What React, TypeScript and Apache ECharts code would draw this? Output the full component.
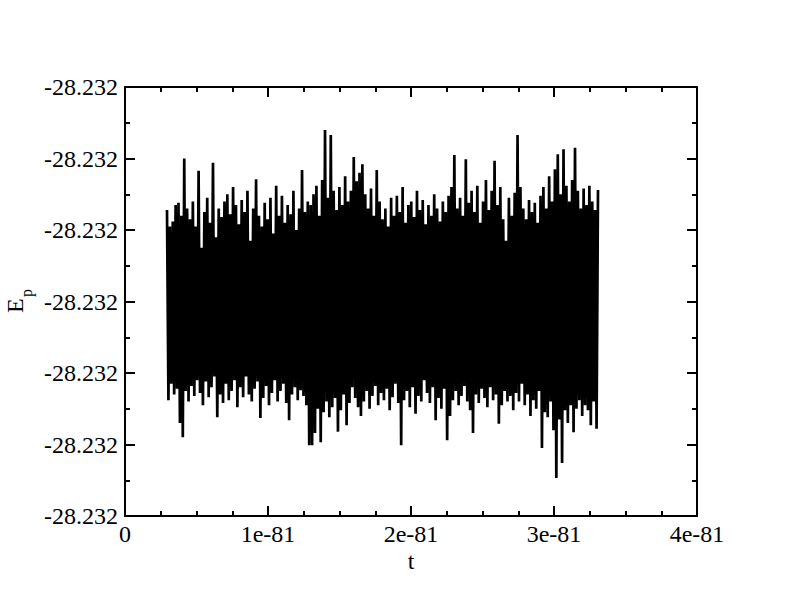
import React, { useEffect, useRef } from "react";
import * as echarts from "echarts";

// time axis in units of 1e-81, sampling from tStart to tEnd
const tStart = 0.2937;
const tEnd = 3.3077;
// E_p fluctuation, in axis units (each major y tick = one unit; all ticks read -28.232)
const epValues = [
  4.28, 1.62, 4.05, 1.85, 4.12, 1.70, 4.35, 1.78, 4.38, 1.30, 4.20, 1.10, 5.00, 1.75, 4.30, 1.60, 4.15, 1.82, 4.40, 1.68,
  4.05, 1.90, 4.83, 1.72, 3.75, 1.55, 4.25, 1.88, 4.45, 1.66, 4.10, 1.80, 4.94, 1.95, 3.90, 1.38, 4.30, 1.70, 4.18, 1.58,
  4.40, 1.85, 4.50, 1.62, 4.22, 1.75, 4.60, 1.90, 4.35, 1.52, 4.08, 1.80, 4.42, 1.66, 4.25, 1.95, 4.55, 1.70, 3.85, 1.60,
  4.30, 1.78, 4.71, 1.88, 4.20, 1.37, 4.05, 1.65, 4.38, 1.82, 4.15, 1.55, 4.45, 1.72, 3.95, 1.90, 4.62, 1.60, 4.20, 1.75,
  4.48, 1.85, 4.10, 1.58, 4.35, 1.34, 4.22, 1.70, 4.55, 1.80, 4.00, 1.62, 4.30, 1.76, 4.84, 1.68, 4.25, 1.55, 4.40, 0.99,
  4.35, 0.99, 4.50, 1.16, 4.62, 1.50, 4.20, 1.03, 4.70, 1.45, 5.40, 1.60, 4.45, 1.38, 5.33, 1.52, 4.55, 1.65, 4.28, 1.18,
  4.60, 1.48, 4.35, 1.70, 4.75, 1.27, 4.40, 1.58, 4.55, 1.80, 5.02, 1.65, 4.68, 1.52, 4.80, 1.40, 4.92, 1.60, 4.50, 1.75,
  4.30, 1.50, 4.58, 1.68, 4.20, 1.82, 4.84, 1.55, 4.40, 1.72, 4.15, 1.62, 4.30, 1.78, 4.05, 1.48, 4.45, 1.66, 4.20, 1.85,
  4.48, 1.58, 4.25, 0.99, 4.60, 1.62, 4.10, 1.75, 4.35, 1.52, 4.40, 1.80, 4.18, 1.43, 4.55, 1.68, 4.28, 1.60, 4.42, 1.90,
  4.08, 1.72, 4.35, 1.58, 4.20, 1.80, 4.50, 1.34, 4.30, 1.65, 4.12, 1.50, 4.40, 1.78, 4.25, 1.06, 4.48, 1.40, 4.60, 1.62,
  5.05, 1.75, 4.30, 1.55, 4.45, 1.68, 4.20, 1.82, 4.99, 1.60, 4.38, 1.48, 4.55, 1.16, 4.25, 1.70, 4.62, 1.58, 4.10, 1.78,
  4.40, 1.65, 4.70, 1.52, 4.28, 1.80, 4.55, 1.62, 4.97, 1.70, 4.35, 1.29, 4.60, 1.55, 4.15, 1.75, 3.85, 1.60, 4.45, 1.68,
  4.20, 1.48, 4.52, 1.72, 5.33, 1.60, 4.60, 1.85, 4.30, 1.55, 4.15, 1.70, 4.42, 1.40, 4.25, 1.62, 4.38, 1.50, 4.10, 1.75,
  4.48, 0.95, 4.60, 1.45, 4.30, 1.38, 4.75, 1.60, 4.40, 1.20, 4.85, 0.53, 5.06, 1.35, 4.50, 0.74, 5.13, 1.48, 4.62, 1.30,
  4.40, 1.55, 4.70, 1.17, 5.15, 1.50, 4.55, 1.62, 4.30, 1.40, 4.58, 1.55, 4.35, 1.48, 4.62, 1.27, 4.40, 1.60, 4.28, 1.22,
  4.56,
];
const yTickLabel = "-28.232";
const xTickSuffix = "e-81";

const FONT = "Liberation Serif";

export default function App() {
  const ref = useRef<HTMLDivElement>(null);
  useEffect(() => {
    if (!ref.current) return;
    const chart = echarts.init(ref.current, undefined, { renderer: "svg" });
    const n = epValues.length;
    const dt = (tEnd - tStart) / (n - 1);
    const data = epValues.map((v, i) => [tStart + i * dt, v]);
    const axisLine = { show: true, onZero: false, lineStyle: { color: "#000", width: 2 } };
    const xCommon = {
      type: "value" as const,
      min: 0,
      max: 4,
      interval: 1,
      axisLine,
      axisTick: { show: true, inside: true, length: 10, lineStyle: { color: "#000", width: 2 } },
      minorTick: { show: true, splitNumber: 4, length: 5, lineStyle: { color: "#000", width: 2 } },
      splitLine: { show: false },
      minorSplitLine: { show: false },
    };
    const yCommon = {
      type: "value" as const,
      min: 0,
      max: 6,
      interval: 1,
      axisLine,
      axisTick: { show: true, inside: true, length: 10, lineStyle: { color: "#000", width: 2 } },
      minorTick: { show: true, splitNumber: 2, length: 5, lineStyle: { color: "#000", width: 2 } },
      splitLine: { show: false },
      minorSplitLine: { show: false },
    };
    chart.setOption({
      animation: false,
      backgroundColor: "#fff",
      textStyle: { fontFamily: FONT, color: "#000" },
      grid: { left: 125, top: 87, width: 572, height: 429, containLabel: false },
      xAxis: [
        {
          ...xCommon,
          position: "bottom",
          name: "t",
          nameLocation: "middle",
          nameGap: 35,
          nameMoveOverlap: false,
          nameTextStyle: { fontFamily: FONT, fontSize: 24, lineHeight: 20, color: "#000" },
          axisLabel: {
            show: true,
            margin: 8,
            fontFamily: FONT,
            fontSize: 24,
            lineHeight: 20,
            color: "#000",
            formatter: (v: number) => (v === 0 ? "0" : `${v}${xTickSuffix}`),
          },
        },
        { ...xCommon, position: "top", axisLabel: { show: false } },
      ],
      yAxis: [
        {
          ...yCommon,
          position: "left",
          axisLabel: {
            show: true,
            margin: 7,
            fontFamily: FONT,
            fontSize: 24,
            color: "#000",
            formatter: () => yTickLabel,
          },
        },
        { ...yCommon, position: "right", axisLabel: { show: false } },
      ],
      graphic: [
        {
          type: "group",
          x: 27,
          y: 313,
          rotation: Math.PI / 2,
          children: [
            {
              type: "text",
              x: 0,
              y: 0,
              style: { text: "E", font: `24px ${FONT}`, fill: "#000", textAlign: "left", textVerticalAlign: "bottom" },
            },
            {
              type: "text",
              x: 16,
              y: 7,
              style: { text: "p", font: `16px ${FONT}`, fill: "#000", textAlign: "left", textVerticalAlign: "bottom" },
            },
          ],
        },
      ],
      series: [
        {
          type: "line",
          data,
          showSymbol: false,
          symbol: "none",
          lineStyle: { color: "#000", width: 2.7 },
          xAxisIndex: 0,
          yAxisIndex: 0,
        },
      ],
    });
    return () => chart.dispose();
  }, []);
  return (
    <div
      ref={ref}
      style={{ position: "fixed", left: 0, top: 0, width: 792, height: 607, background: "#fff" }}
    />
  );
}
